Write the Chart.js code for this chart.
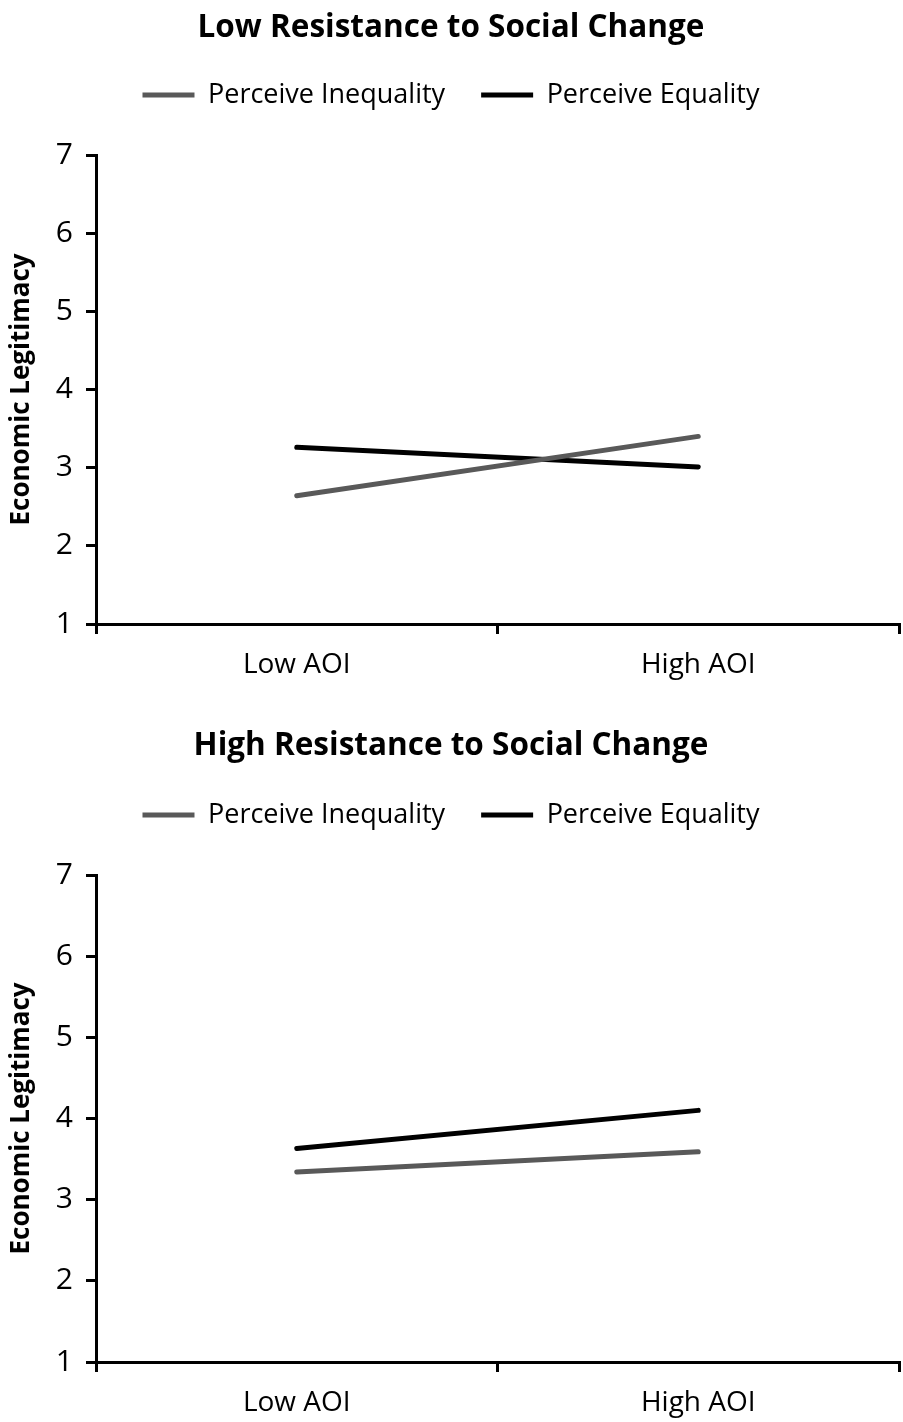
<!DOCTYPE html>
<html>
<head>
<meta charset="utf-8">
<script src="https://cdn.jsdelivr.net/npm/chart.js@4/dist/chart.umd.min.js"></script>
<style>
  html, body { margin: 0; padding: 0; background: #ffffff; overflow: hidden; }
  .panel { position: absolute; left: 0; width: 903px; }
  #panelLow { top: 0; height: 718px; }
  #panelHigh { top: 718px; height: 704px; }
</style>
</head>
<body>
<div class="panel" id="panelLow"><canvas id="chartLow"></canvas></div>
<div class="panel" id="panelHigh"><canvas id="chartHigh"></canvas></div>
<script>
// Categories and series
const categories = ['Low AOI', 'High AOI'];
const seriesNames = ['Perceive Inequality', 'Perceive Equality'];

// Low resistance to social change
const lowRscInequality = [2.64, 3.40];
const lowRscEquality = [3.26, 3.01];

// High resistance to social change
const highRscInequality = [3.34, 3.59];
const highRscEquality = [3.63, 4.10];

// Axis ticks and labels
const yTickValues = [1, 2, 3, 4, 5, 6, 7];
const panelTitles = ['Low Resistance to Social Change', 'High Resistance to Social Change'];
const yAxisTitle = 'Economic Legitimacy';

const FONT = '"Open Sans", Lato, sans-serif';
const GREY = '#595959';
const BLACK = '#000000';

// Adds extra space below the legend so the plot starts lower
function legendGap(extra) {
  return {
    id: 'legendGap',
    beforeLayout(chart) {
      const lg = chart.legend;
      if (lg && !lg._gapPatched) {
        const fit = lg.fit;
        lg.fit = function () {
          fit.call(this);
          this.height += extra;
        };
        lg._gapPatched = true;
      }
    }
  };
}

function buildChart(canvasId, title, inequality, equality, titleGap, extraGap, bottomPad) {
  return new Chart(document.getElementById(canvasId), {
    type: 'line',
    data: {
      labels: categories,
      datasets: [
        {
          label: seriesNames[0],
          data: inequality,
          borderColor: GREY,
          backgroundColor: GREY,
          borderWidth: 5,
          borderCapStyle: 'round',
          pointRadius: 0,
          pointHoverRadius: 0,
          tension: 0
        },
        {
          label: seriesNames[1],
          data: equality,
          borderColor: BLACK,
          backgroundColor: BLACK,
          borderWidth: 5,
          borderCapStyle: 'round',
          pointRadius: 0,
          pointHoverRadius: 0,
          tension: 0
        }
      ]
    },
    options: {
      responsive: true,
      maintainAspectRatio: false,
      animation: false,
      layout: { padding: { left: 3, right: 4, top: 0, bottom: bottomPad } },
      plugins: {
        tooltip: { enabled: false },
        title: {
          display: true,
          text: title,
          color: BLACK,
          font: { family: FONT, size: 31.5, weight: 'bold', lineHeight: 1 },
          padding: { top: 12.25, bottom: titleGap }
        },
        legend: {
          display: true,
          position: 'top',
          labels: {
            color: BLACK,
            font: { family: FONT, size: 27 },
            usePointStyle: true,
            pointStyle: 'line',
            pointStyleWidth: 52,
            boxHeight: 5,
            padding: 36
          }
        }
      },
      scales: {
        x: {
          type: 'category',
          offset: true,
          afterFit(scale) { scale.height = 60; },
          grid: {
            offset: true,
            drawOnChartArea: false,
            color: BLACK,
            lineWidth: 3,
            tickLength: 10
          },
          border: { color: BLACK, width: 3 },
          ticks: { color: BLACK, font: { family: FONT, size: 28 }, padding: 14 }
        },
        y: {
          min: 1,
          max: 7,
          afterFit(scale) { scale.width = 93; },
          afterBuildTicks(scale) {
            scale.ticks = yTickValues.map(v => ({ value: v }));
          },
          grid: {
            drawOnChartArea: false,
            color: BLACK,
            lineWidth: 3,
            tickLength: 10
          },
          border: { color: BLACK, width: 3 },
          ticks: { color: BLACK, font: { family: FONT, size: 30 }, padding: 13 },
          title: {
            display: true,
            text: yAxisTitle,
            color: BLACK,
            font: { family: FONT, size: 26, weight: 'bold' },
            padding: { top: 3, bottom: 4 }
          }
        }
      }
    },
    plugins: [legendGap(extraGap)]
  });
}

buildChart('chartLow', panelTitles[0], lowRscInequality, lowRscEquality, 1.75, 36.5, 34);
buildChart('chartHigh', panelTitles[1], highRscInequality, highRscEquality, 3.75, 36.5, 0);
</script>
</body>
</html>
